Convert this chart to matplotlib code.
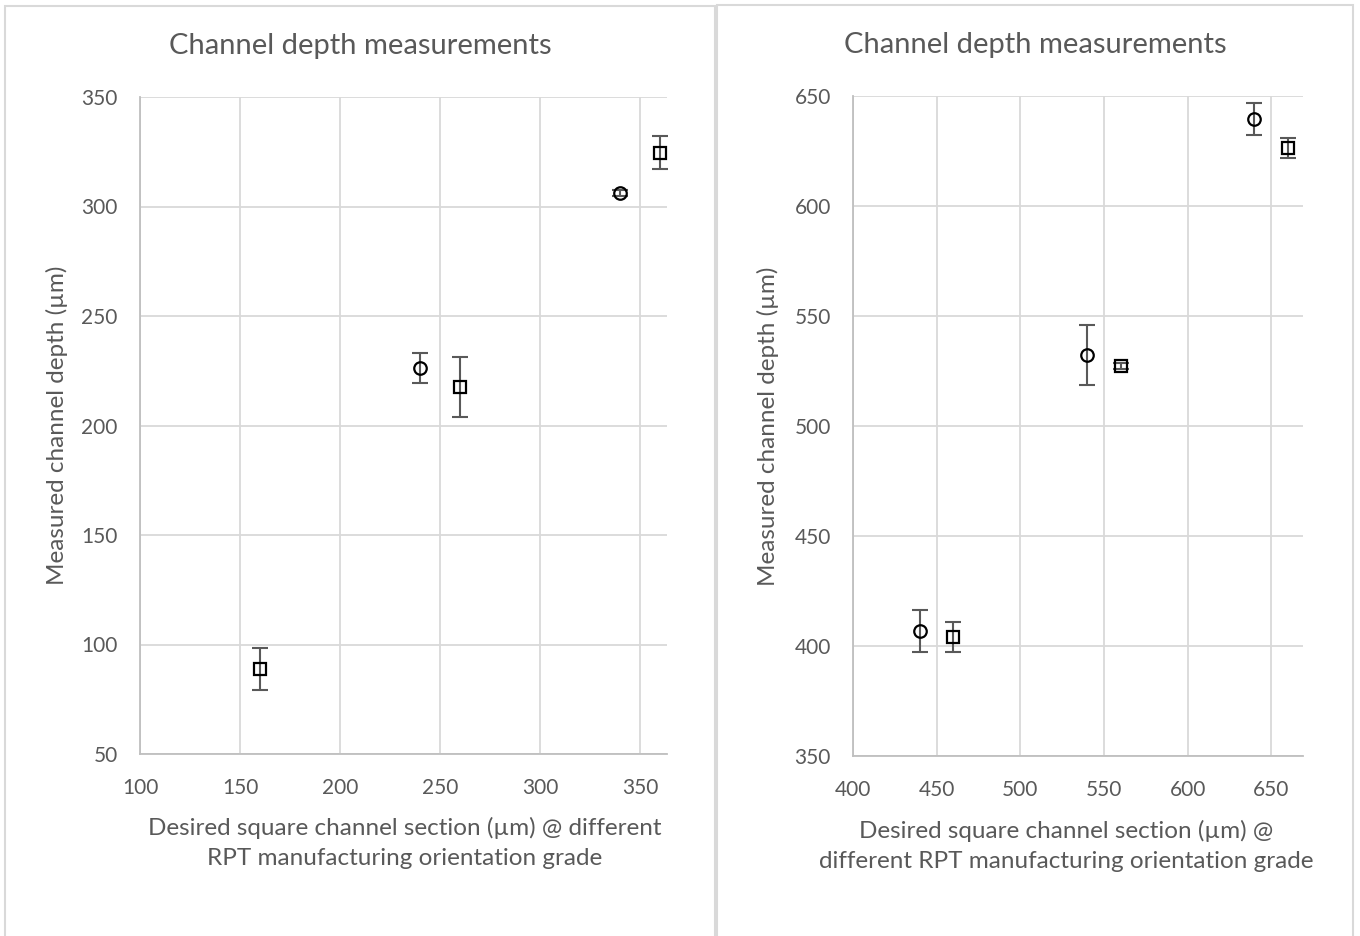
import matplotlib
matplotlib.use("Agg")
import matplotlib.pyplot as plt
from matplotlib.patches import Rectangle

plt.rcParams['font.family'] = ['Lato', 'DejaVu Sans']

# Left chart data
left_circle_x = [240, 340]
left_circle_y = [226.3, 306.2]
left_circle_err = [6.9, 1.5]
left_square_x = [160, 260, 360]
left_square_y = [88.8, 217.6, 324.6]
left_square_err = [9.6, 13.7, 7.5]
left_xticks = [100, 150, 200, 250, 300, 350]
left_yticks = [50, 100, 150, 200, 250, 300, 350]

# Right chart data
right_circle_x = [440, 540, 640]
right_circle_y = [406.8, 532.3, 639.4]
right_circle_err = [9.7, 13.6, 7.3]
right_square_x = [460, 560, 660]
right_square_y = [404.1, 527.3, 626.2]
right_square_err = [6.8, 1.5, 4.6]
right_xticks = [400, 450, 500, 550, 600, 650]
right_yticks = [350, 400, 450, 500, 550, 600, 650]

title = "Channel depth measurements"
ylabel = "Measured channel depth (µm)"
left_xlabel = "Desired square channel section (µm) @ different\nRPT manufacturing orientation grade"
right_xlabel = "Desired square channel section (µm) @\ndifferent RPT manufacturing orientation grade"

W, H = 1360, 936
fig = plt.figure(figsize=(W / 100, H / 100), dpi=100)

grey_text = '#595959'
grid_c = '#d9d9d9'


def add_axes_px(l, t, r, b):
    return fig.add_axes([l / W, 1 - b / H, (r - l) / W, (b - t) / H])


def style(ax, xticks, yticks, xlim, ylim):
    ax.set_xlim(*xlim)
    ax.set_ylim(*ylim)
    ax.set_xticks(xticks)
    ax.set_yticks(yticks)
    ax.grid(True, color=grid_c, lw=1.3)
    ax.set_axisbelow(True)
    for s in ['top', 'right']:
        ax.spines[s].set_visible(False)
    for s in ['left', 'bottom']:
        ax.spines[s].set_color('#bfbfbf')
        ax.spines[s].set_linewidth(1.3)
    ax.tick_params(length=0, labelsize=15, colors=grey_text)
    ax.tick_params(axis='y', pad=16)
    ax.tick_params(axis='x', pad=17)


def draw(ax, cx, cy, ce, sx, sy, se):
    ax.errorbar(cx, cy, yerr=ce, fmt='none', ecolor='#595959', elinewidth=1.5,
                capsize=6, capthick=1.5, zorder=3)
    ax.errorbar(sx, sy, yerr=se, fmt='none', ecolor='#595959', elinewidth=1.5,
                capsize=6, capthick=1.5, zorder=3)
    ax.plot(cx, cy, 'o', ms=9, mfc='none', mec='black', mew=1.6, zorder=4, ls='none')
    ax.plot(sx, sy, 's', ms=9, mfc='none', mec='black', mew=1.6, zorder=4, ls='none')


# Panel borders (extend past the bottom edge)
fig.patches.append(Rectangle((5 / W, -0.05), 710 / W, (H - 6) / H + 0.05,
                             transform=fig.transFigure, fill=False, ec=grid_c, lw=1.5))
fig.patches.append(Rectangle((717 / W, -0.05), 636 / W, (H - 5) / H + 0.05,
                             transform=fig.transFigure, fill=False, ec=grid_c, lw=1.5))

ax1 = add_axes_px(140, 97, 667, 754)
style(ax1, left_xticks, left_yticks, (100, 363.5), (50, 350))
draw(ax1, left_circle_x, left_circle_y, left_circle_err,
     left_square_x, left_square_y, left_square_err)

ax2 = add_axes_px(853, 96, 1303, 756)
style(ax2, right_xticks, right_yticks, (400, 669), (350, 650))
draw(ax2, right_circle_x, right_circle_y, right_circle_err,
     right_square_x, right_square_y, right_square_err)

fig.text(360 / W, 1 - 46 / H, title, ha='center', va='center', fontsize=21, color=grey_text)
fig.text(1035 / W, 1 - 45 / H, title, ha='center', va='center', fontsize=21, color=grey_text)

fig.text(405 / W, 1 - 843 / H, left_xlabel, ha='center', va='center', fontsize=17.5,
         color=grey_text, linespacing=1.5, multialignment='center')
fig.text(1066 / W, 1 - 846 / H, right_xlabel, ha='center', va='center', fontsize=17.5,
         color=grey_text, linespacing=1.5, multialignment='center')

fig.text(57 / W, 1 - 425 / H, ylabel, ha='center', va='center', rotation=90,
         fontsize=17.5, color=grey_text)
fig.text(768 / W, 1 - 426 / H, ylabel, ha='center', va='center', rotation=90,
         fontsize=17.5, color=grey_text)

fig.savefig('out.png', dpi=100, facecolor='white')
